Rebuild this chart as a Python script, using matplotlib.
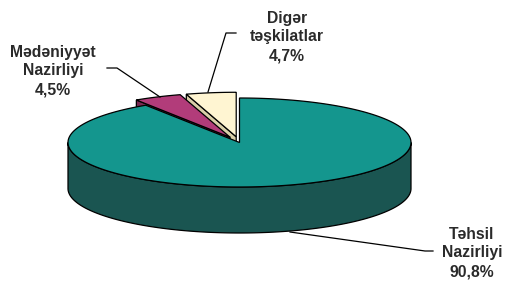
import numpy as np
import matplotlib
matplotlib.use("Agg")
import matplotlib.pyplot as plt
from matplotlib.patches import Polygon

# ---- data ----
labels = ["Təhsil\nNazirliyi\n90,8%", "Mədəniyyət\nNazirliyi\n4,5%", "Digər\ntəşkilatlar\n4,7%"]
values = [90.8, 4.5, 4.7]
top_colors = ["#14968E", "#B23C7A", "#FFF5D2"]
side_colors = ["#1A5551", "#7A2852", "#D9CFA8"]
explode = [0.0, 0.13, 0.13]

# ---- layout (pixel space) ----
W, H = 505, 282
cx, cy = 239.5, 142.5
rx, ry = 171.5, 44.5
depth = 46
label_pos = [(472, 253), (53, 71), (287, 37)]
leaders = [
    [(290, 232), (425, 251), (433, 251)],
    [(160, 97), (117, 68), (107, 68)],
    [(208, 92), (226, 33), (236, 33)],
]

fig = plt.figure(figsize=(W / 100, H / 100), dpi=100)
ax = fig.add_axes([0, 0, 1, 1])
ax.set_xlim(0, W)
ax.set_ylim(H, 0)
ax.axis("off")

lw = 0.9
total = sum(values)


def pt(theta_deg, ox, oy, dz=0.0):
    t = np.radians(theta_deg)
    return ox + rx * np.cos(t), oy - ry * np.sin(t) + dz


def arc(t1, t2, ox, oy, dz=0.0, n=200):
    ts = np.linspace(t1, t2, n)
    return [pt(t, ox, oy, dz) for t in ts]


# compute slice angles (clockwise from 12 o'clock)
slices = []
start = 90.0
for v, e in zip(values, explode):
    sweep = 360.0 * v / total
    t1, t2 = start, start - sweep
    mid = np.radians((t1 + t2) / 2)
    ox = cx + e * rx * np.cos(mid)
    oy = cy - e * ry * np.sin(mid)
    slices.append((t2, t1, ox, oy))
    start = t2


def draw_slice(i, z):
    lo, hi, ox, oy = slices[i]
    top_c, side_c = top_colors[i], side_colors[i]
    # radial cut faces visible to the viewer
    for ang, sign in ((lo, -1), (hi, 1)):
        t = np.radians(ang)
        nx, ny = (-np.sin(t), np.cos(t)) if sign == 1 else (np.sin(t), -np.cos(t))
        if ny < -1e-6:  # faces the viewer
            p_rim = pt(ang, ox, oy)
            face = [(ox, oy), p_rim, (p_rim[0], p_rim[1] + depth), (ox, oy + depth)]
            ax.add_patch(Polygon(face, closed=True, facecolor=side_c,
                                 edgecolor="black", lw=lw, zorder=z))
    # outer wall, front half only
    for k in (-2, -1, 0, 1):
        a = max(lo, -180 + 360 * k)
        b = min(hi, 0 + 360 * k)
        if b > a:
            top_arc = arc(a, b, ox, oy)
            bot_arc = arc(b, a, ox, oy, depth)
            ax.add_patch(Polygon(top_arc + bot_arc, closed=True, facecolor=side_c,
                                 edgecolor="black", lw=lw, zorder=z + 0.1))
    # top
    poly = [(ox, oy)] + arc(lo, hi, ox, oy)
    ax.add_patch(Polygon(poly, closed=True, facecolor=top_c,
                         edgecolor="black", lw=lw, zorder=z + 0.2, joinstyle="miter"))


# painter's order: back slices first
draw_slice(2, 1)
draw_slice(1, 2)
draw_slice(0, 3)

for (x, y), lab in zip(label_pos, labels):
    ax.text(x, y, lab, ha="center", va="center", fontsize=11.3, fontweight="bold",
            family="Liberation Sans", color="#2a2a2a", linespacing=1.3, zorder=5)

for pts in leaders:
    xs, ys = zip(*pts)
    ax.plot(xs, ys, color="black", lw=0.9, zorder=6)

fig.savefig("out.png", dpi=100)
